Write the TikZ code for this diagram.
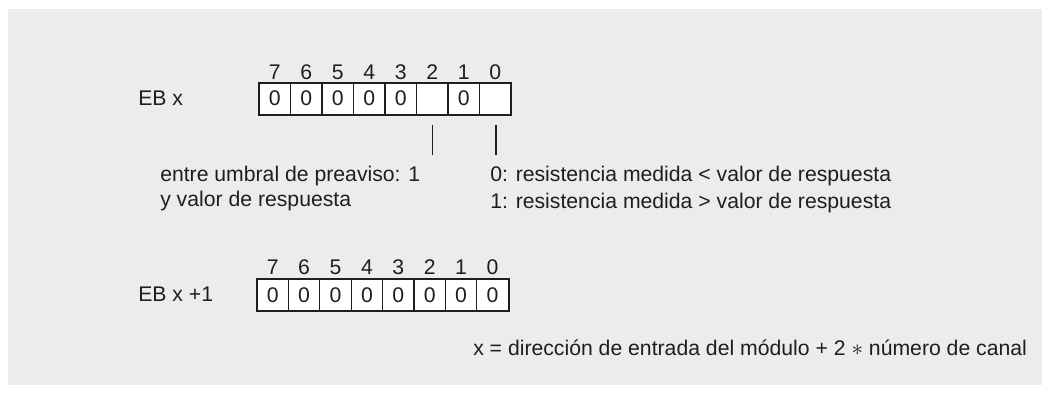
\documentclass[tikz,border=0pt]{standalone}
\usepackage{fontspec}
\setmainfont{Liberation Sans}
\usepackage{tikz}
\usetikzlibrary{positioning}
\definecolor{panelgray}{RGB}{235,236,238}
\definecolor{inkgray}{RGB}{30,30,30}
\tikzset{
  bitCell/.style={draw=inkgray, line width=0.8pt, fill=white, minimum width=23.6pt, minimum height=23.3pt, inner sep=0pt, font=\fontsize{15.9}{18}\selectfont, text=inkgray},
  bitNum/.style={inner sep=0pt, font=\fontsize{15.9}{18}\selectfont, text=inkgray},
  regText/.style={anchor=west, inner sep=0pt, align=left, font=\fontsize{15.9}{18}\selectfont, text=inkgray},
  markLine/.style={draw=inkgray, line width=0.8pt}
}
\begin{document}
\begin{tikzpicture}[x=0.75pt, y=-0.75pt]
      \useasboundingbox (0,0) rectangle (1050,393);
      \fill[panelgray] (8,9) rectangle (1042,385);
      \node[regText] (ebx) at (138,98) {EB x};
      \foreach \i/\v in {0/0,1/0,2/0,3/0,4/0,5/{},6/0,7/{}} {
        \pgfmathtruncatemacro{\b}{7-\i}
        \node[bitCell] (ra\b) at (274.75+31.5*\i,98.5) {\v};
        \node[bitNum] (na\b) at (274.75+31.5*\i,72) {\b};
      }
      \draw[inkgray, line width=1.4pt] (ra7.north west) rectangle (ra0.south east);
      \coordinate (tickA) at (432.3,125);
      \coordinate (tickAend) at (432.3,155);
      \coordinate (tickB) at (496,125);
      \coordinate (tickBend) at (496,155);
      \draw[markLine] (tickA) -- (tickAend);
      \draw[markLine] (tickB) -- (tickBend);
      \node[regText] (warnLbl) at (160,176) {entre umbral de preaviso: 1};
      \node[regText] (warnLbl2) at (160,201) {y valor de respuesta};
      \node[regText] (resLbl) at (490,176) {0: resistencia medida < valor de respuesta};
      \node[regText] (resLbl2) at (490,203) {1: resistencia medida > valor de respuesta};
      \node[regText] (ebx1) at (138,294) {EB x +1};
      \foreach \i in {0,...,7} {
        \pgfmathtruncatemacro{\b}{7-\i}
        \node[bitCell] (rb\b) at (272.7+31.4*\i,295) {0};
        \node[bitNum] (nb\b) at (272.7+31.4*\i,267) {\b};
      }
      \draw[inkgray, line width=1.4pt] (rb7.north west) rectangle (rb0.south east);
      \node[regText] (formula) at (473,348) {x = dirección de entrada del módulo + 2 $\ast$ número de canal};
    \end{tikzpicture}
\end{document}
